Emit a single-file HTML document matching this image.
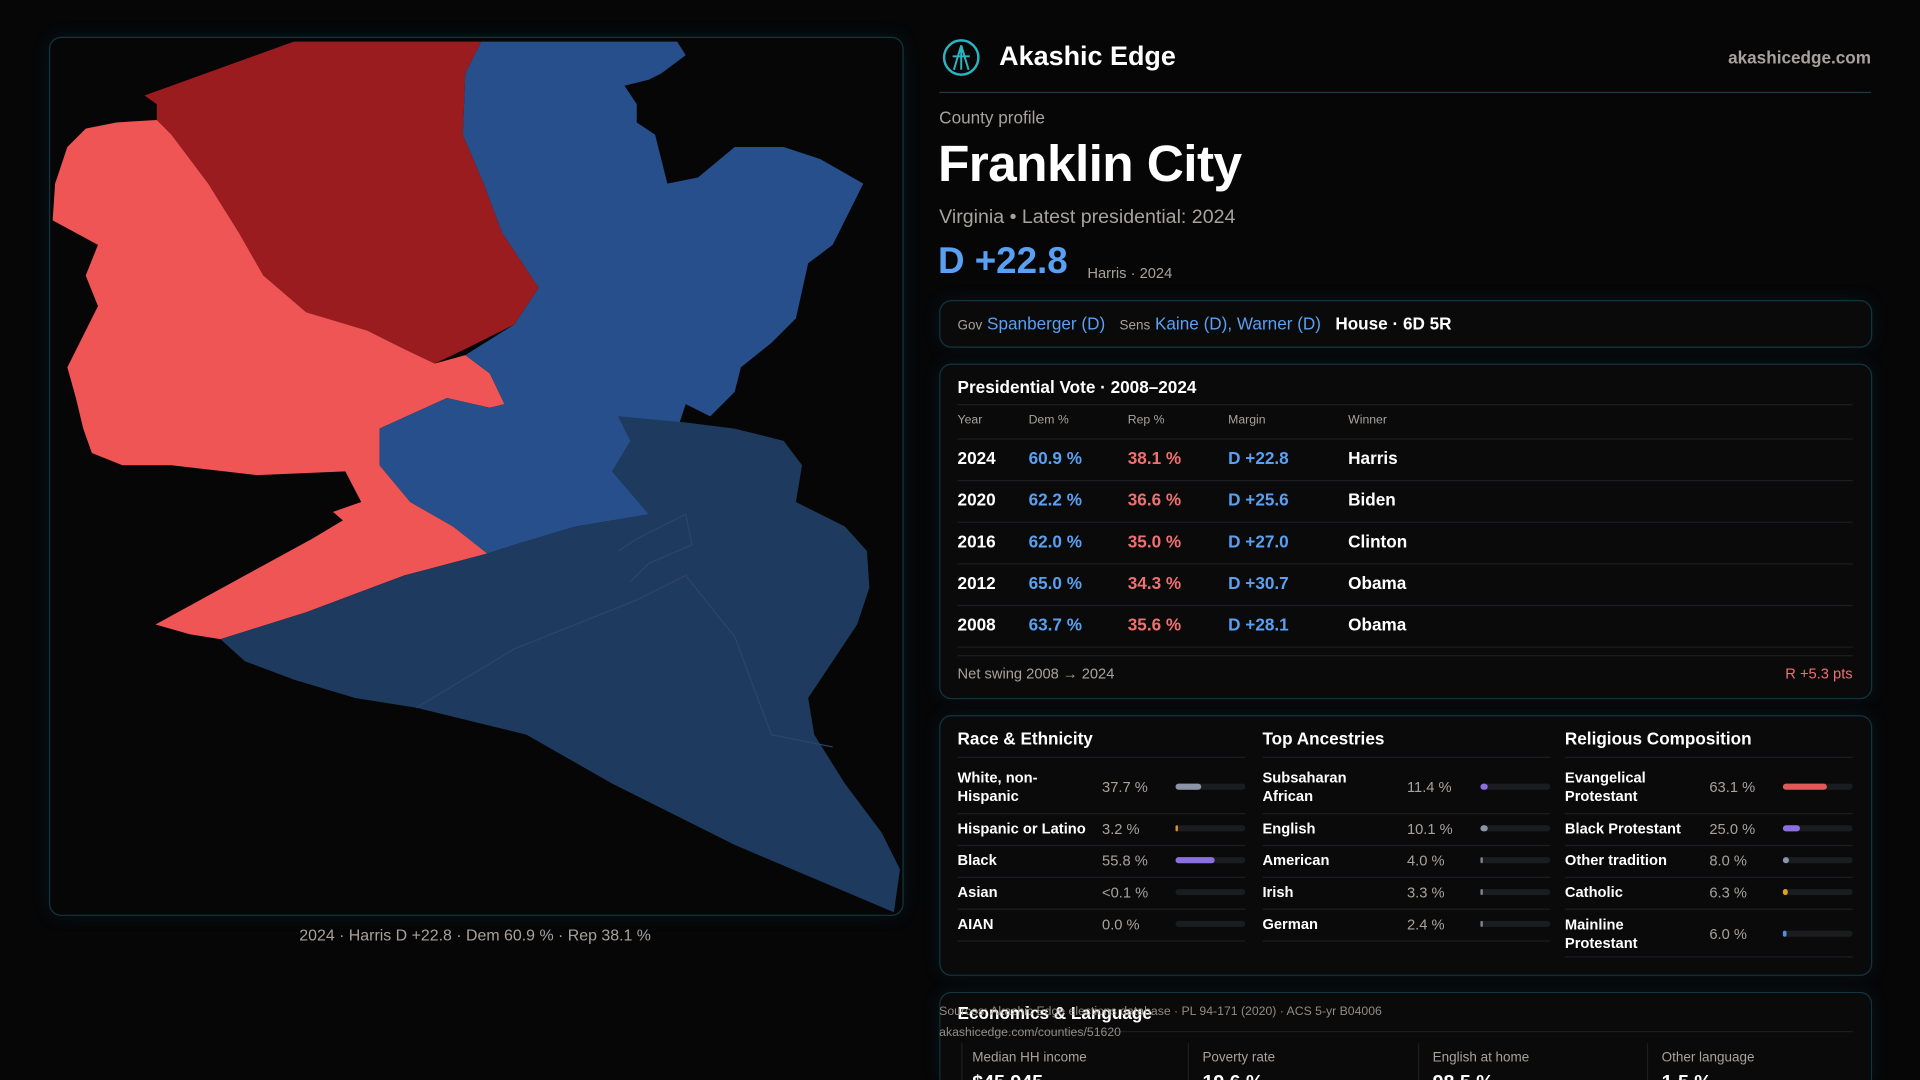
<!DOCTYPE html>
<html><head><meta charset="utf-8">
<style>
html,body{margin:0;padding:0;background:#060607;width:1920px;height:1080px;overflow:hidden}
#wrap{position:absolute;left:0;top:0;width:1568px;height:882px;overflow:hidden;transform:scale(1.22449);transform-origin:0 0;font-family:"Liberation Sans",sans-serif;color:#fff}
.abs{position:absolute;white-space:nowrap}
.card{position:absolute;border:1px solid #123540;border-radius:10px;background:#0a0a0b;box-shadow:0 0 14px rgba(20,90,110,0.18)}
.gray{color:#a8a29c}
.blue{color:#59a0f2}
.red{color:#f07070}
.sep{position:absolute;height:1px;background:#1c1e21}
</style></head><body>
<div id="wrap">
<div class="card" style="left:40px;top:30px;width:696px;height:716px;background:#060607"></div>
<svg class="abs" style="left:0;top:0" width="760" height="760">
<polygon fill="#9b1c1f" points="118,78 240,34 393,34 380,60 378,110 395,150 410,190 440,235 420,265 380,285 355,297 330,285 300,270 250,255 215,225 195,190 170,150 140,110 128,98 128,85"/>
<polygon fill="#f05555" points="43,180 45,150 55,120 70,105 95,100 128,98 140,110 170,150 195,190 215,225 250,255 300,270 330,285 355,297 380,290 400,305 412,330 400,333 365,325 310,350 310,380 335,410 370,430 398,452 330,470 250,500 180,522 155,518 127,510 200,470 255,440 280,425 272,418 295,410 282,385 210,388 140,380 100,380 75,370 68,350 62,325 55,300 65,280 80,250 70,225 80,200"/>
<polygon fill="#274f8c" points="393,34 553,34 560,45 540,60 530,65 510,70 520,85 520,100 535,110 545,150 570,145 600,120 640,120 670,130 705,150 695,170 680,200 660,215 650,260 630,280 605,300 600,320 580,340 560,330 555,345 505,340 515,360 500,385 530,420 470,430 420,445 398,452 370,430 335,410 310,380 310,350 365,325 400,333 412,330 400,305 380,290 420,265 440,235 410,190 395,150 378,110 380,60"/>
<polygon fill="#1f3a5f" points="505,340 560,345 600,350 640,360 655,380 650,410 690,430 708,450 710,480 700,510 680,540 660,570 665,600 690,640 720,680 735,710 730,745 600,690 500,640 430,600 340,578 290,570 240,555 200,540 180,522 250,500 330,470 398,452 420,445 470,430 530,420 500,385 515,360"/>
<polyline fill="none" stroke="#2a4668" stroke-width="1" points="340,578 420,530 520,490 560,470 600,520 630,600 680,610"/>
<polyline fill="none" stroke="#2a4668" stroke-width="1" points="505,450 520,440 560,420 565,445 530,460 515,475"/>
</svg>
<div class="abs gray" style="left:0;width:776px;text-align:center;top:756px;font-size:13px">2024 · Harris D +22.8 · Dem 60.9 % · Rep 38.1 %</div>

<svg class="abs" style="left:769px;top:31px" width="32" height="32"><circle cx="16" cy="16" r="14" fill="none" stroke="#2bb5c0" stroke-width="2"/><path d="M16 6 L10 26 M16 6 L22 26 M9 15 L23 15 M16 6 L16 26" stroke="#2bb5c0" stroke-width="1.6" fill="none"/></svg>
<div class="abs" style="left:816px;top:33px;font-size:22px;font-weight:bold">Akashic Edge</div>
<div class="abs gray" style="right:40px;top:39px;font-size:14px;font-weight:bold">akashicedge.com</div>
<div class="abs" style="left:767px;top:75px;width:761px;height:1px;background:#1b3a44"></div>
<div class="abs gray" style="left:767px;top:88px;font-size:14px">County profile</div>
<div class="abs" style="left:766px;top:110px;font-size:42px;font-weight:bold;letter-spacing:-0.5px">Franklin City</div>
<div class="abs gray" style="left:767px;top:169px;font-size:16px">Virginia • Latest presidential: 2024</div>
<div class="abs blue" style="left:766px;top:197px;font-size:30px;font-weight:bold">D +22.8</div>
<div class="abs gray" style="left:888px;top:216px;font-size:12px">Harris · 2024</div>

<div class="card" style="left:767px;top:245px;width:760px;height:37px"></div>
<div class="abs" style="left:782px;top:256px;font-size:14px">
<span class="gray" style="font-size:11px">Gov</span> <span class="blue">Spanberger (D)</span>&nbsp;&nbsp; <span class="gray" style="font-size:11px">Sens</span> <span class="blue">Kaine (D), Warner (D)</span>&nbsp;&nbsp; <span style="font-weight:bold">House · 6D 5R</span></div>

<div class="card" style="left:767px;top:297px;width:760px;height:272px"></div>
<div class="abs" style="left:782px;top:308px;font-size:14px;font-weight:bold">Presidential Vote · 2008–2024</div>

<div class="card" style="left:767px;top:584px;width:760px;height:211px"></div>

<div class="card" style="left:767px;top:810px;width:760px;height:72px;border-bottom:none;border-radius:10px 10px 0 0"></div>
<div class="abs" style="left:782px;top:819px;font-size:14px;font-weight:bold">Economics &amp; Language</div>
<div class="sep" style="left:782px;top:842px;width:731px"></div>
<div class="abs gray" style="left:794px;top:858px;font-size:11px">Median HH income</div>
<div class="abs gray" style="left:982px;top:858px;font-size:11px">Poverty rate</div>
<div class="abs gray" style="left:1170px;top:858px;font-size:11px">English at home</div>
<div class="abs gray" style="left:1357px;top:858px;font-size:11px">Other language</div>
<div class="abs" style="left:785px;top:852px;width:1px;height:30px;background:#1c1e21"></div>
<div class="abs" style="left:970px;top:852px;width:1px;height:30px;background:#1c1e21"></div>
<div class="abs" style="left:1158px;top:852px;width:1px;height:30px;background:#1c1e21"></div>
<div class="abs" style="left:1345px;top:852px;width:1px;height:30px;background:#1c1e21"></div>
<div class="abs" style="left:790px;top:876px;width:700px;height:6px;overflow:hidden">
<span class="abs" style="left:4px;top:0;font-size:16px;font-weight:bold">$45,945</span>
<span class="abs" style="left:192px;top:0;font-size:16px;font-weight:bold">19.6 %</span>
<span class="abs" style="left:380px;top:0;font-size:16px;font-weight:bold">98.5 %</span>
<span class="abs" style="left:567px;top:0;font-size:16px;font-weight:bold">1.5 %</span>
</div>
<div class="abs gray" style="left:767px;top:821px;font-size:10px;opacity:.85">Sources: Akashic Edge elections database · PL 94-171 (2020) · ACS 5-yr B04006</div>
<div class="abs gray" style="left:767px;top:838px;font-size:10px;opacity:.85">akashicedge.com/counties/51620</div>
</div>
<script>
const years=["2024","2020","2016","2012","2008"];
const demPct=[60.9,62.2,62.0,65.0,63.7];
const repPct=[38.1,36.6,35.0,34.3,35.6];
const winners=["Harris","Biden","Clinton","Obama","Obama"];
const raceLabels=["White, non-Hispanic","Hispanic or Latino","Black","Asian","AIAN"];
const raceVals=[37.7,3.2,55.8,0.05,0.0];
const raceText=["37.7 %","3.2 %","55.8 %","<0.1 %","0.0 %"];
const ancLabels=["Subsaharan African","English","American","Irish","German"];
const ancVals=[11.4,10.1,4.0,3.3,2.4];
const relLabels=["Evangelical Protestant","Black Protestant","Other tradition","Catholic","Mainline Protestant"];
const relVals=[63.1,25.0,8.0,6.3,6.0];
const wrapLabels=["White, non-Hispanic","Subsaharan African","Evangelical Protestant","Mainline Protestant"];

const wrap=document.getElementById('wrap');
function add(html,style,cls){const d=document.createElement('div');d.className='abs '+(cls||'');d.style.cssText=style;d.innerHTML=html;wrap.appendChild(d);return d;}
const hdrs=["Year","Dem %","Rep %","Margin","Winner"];const cx=[782,840,921,1003,1101];
hdrs.forEach((h,i)=>{const d=add(h,`left:${cx[i]}px;top:338px;font-size:10px`,'gray');

});
const sepAt=y=>{const s=document.createElement('div');s.className='sep';s.style.cssText=`left:782px;top:${y}px;width:731px`;wrap.appendChild(s);};
sepAt(330);sepAt(358);
years.forEach((y,i)=>{const top=366+i*34;const m=demPct[i]-repPct[i];
const cells=[[y,''],[demPct[i].toFixed(1)+' %','blue'],[repPct[i].toFixed(1)+' %','red'],[(m>=0?'D +':'R +')+Math.abs(m).toFixed(1),'blue'],[winners[i],'']];
cells.forEach((c,j)=>{const d=add(c[0],`left:${cx[j]}px;top:${top}px;font-size:14px;font-weight:bold`,c[1]);

});
sepAt(top+26);});
sepAt(535);
const swing=(demPct[0]-repPct[0])-(demPct[4]-repPct[4]);
let d1=add('Net swing 2008 → 2024','left:782px;top:543px;font-size:12px','gray');


let d2=add((swing<0?'R +':'D +')+Math.abs(swing).toFixed(1)+' pts','right:55px;top:543px;font-size:12px','red');


const rowY=[643,677,703,729,755];
function col(x0,title,labels,vals,texts,colors,lastTwo){
 const t=add(title,`left:${x0}px;top:595px;font-size:14px;font-weight:bold`);
 
 
 const s=document.createElement('div');s.className='sep';s.style.cssText=`left:${x0}px;top:618px;width:235px`;wrap.appendChild(s);
 labels.forEach((l,i)=>{let y=rowY[i];if(lastTwo&&i==4)y=763;
  const wr=wrapLabels.includes(l);
  const lab=add(l,`left:${x0}px;top:${y}px;transform:translateY(-50%);font-size:12px;font-weight:bold;${wr?'white-space:normal;width:90px;':''}line-height:15px`);
  
  
  const v=add(texts[i],`left:${x0+118}px;top:${y}px;transform:translateY(-50%);font-size:12px`,'gray');
  
  
  const tr=add('',`left:${x0+178}px;top:${y-3}px;width:57px;height:5px;border-radius:3px;background:#1b1c1f`);
  
  
  const w=Math.max(vals[i]>0.5?2:0,57*vals[i]/100);
  const b=add('',`left:${x0+178}px;top:${y-3}px;width:${w}px;height:5px;border-radius:3px;background:${colors[i]}`);
  
  
  const sy=(lastTwo&&i==4)?781:(i==0?664:y+13);
  const s2=document.createElement('div');s2.className='sep';s2.style.cssText=`left:${x0}px;top:${sy}px;width:235px`;wrap.appendChild(s2);
 });
}
col(782,'Race &amp; Ethnicity',raceLabels,raceVals,raceText,['#8a96a8','#e0902a','#8b6fe0','#555','#555']);
col(1031,'Top Ancestries',ancLabels,ancVals,ancVals.map(v=>v.toFixed(1)+' %'),['#8b6fe0','#8a96a8','#7a8494','#7a8494','#7a8494']);
col(1278,'Religious Composition',relLabels,relVals,relVals.map(v=>v.toFixed(1)+' %'),['#e05a5a','#8b6fe0','#8a96a8','#e0a020','#4d8fe0'],true);
</script>
</body></html>
